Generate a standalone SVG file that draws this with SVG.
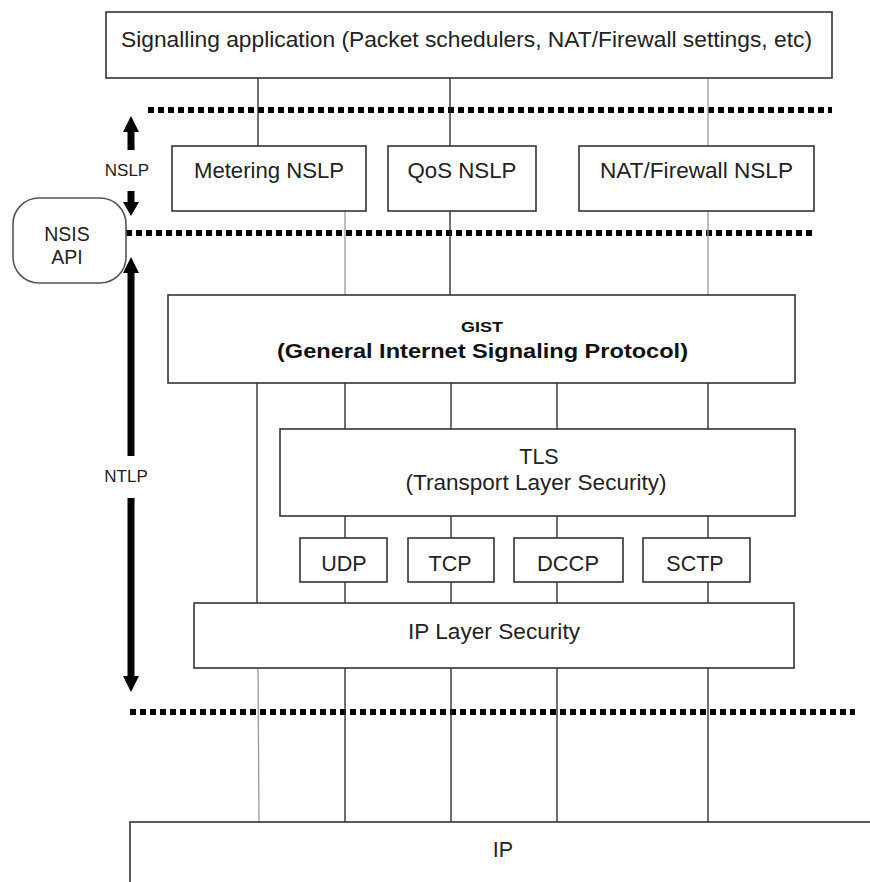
<svg xmlns="http://www.w3.org/2000/svg" width="870" height="882" viewBox="0 0 870 882">
<style>
.box{fill:#fff;stroke:#333;stroke-width:1.6}
.t{font-family:"Liberation Sans",Arial,sans-serif;font-size:21.5px;fill:#222;text-anchor:middle}
.s{font-family:"Liberation Sans",Arial,sans-serif;font-size:17px;fill:#222;text-anchor:middle}
.b{font-family:"Liberation Sans",Arial,sans-serif;font-weight:bold;fill:#111;text-anchor:middle}
.c{stroke:#222;stroke-width:1.3;fill:none}
.g{stroke:#999;stroke-width:1.3;fill:none}
.dot{stroke:#000;stroke-width:6;stroke-dasharray:6 4;fill:none}
.arr{fill:#000}
</style>
<rect width="870" height="882" fill="#fff"/>

<g id="layer-boundaries">
<line class="dot" x1="148" y1="110" x2="832" y2="110"/>
<line class="dot" x1="126" y1="233" x2="814" y2="233"/>
<line class="dot" x1="130" y1="712" x2="855" y2="712"/>
</g>

<g id="connectors">
<line class="c" x1="258" y1="78" x2="258" y2="146"/>
<line class="c" x1="450" y1="78" x2="450" y2="146"/>
<line class="g" x1="708" y1="78" x2="708" y2="146"/>
<line class="g" x1="345" y1="211" x2="345" y2="295"/>
<line class="c" x1="450" y1="211" x2="450" y2="295"/>
<line class="g" x1="708" y1="211" x2="708" y2="295"/>
<line class="c" x1="257" y1="383" x2="257" y2="603"/>
<line class="c" x1="345" y1="383" x2="345" y2="429"/>
<line class="c" x1="451" y1="383" x2="451" y2="429"/>
<line class="c" x1="557" y1="383" x2="557" y2="429"/>
<line class="c" x1="708" y1="383" x2="708" y2="429"/>
<line class="c" x1="345" y1="516" x2="345" y2="538"/>
<line class="c" x1="451" y1="516" x2="451" y2="538"/>
<line class="c" x1="557" y1="516" x2="557" y2="538"/>
<line class="c" x1="708" y1="516" x2="708" y2="538"/>
<line class="c" x1="345" y1="582" x2="345" y2="603"/>
<line class="c" x1="451" y1="582" x2="451" y2="603"/>
<line class="c" x1="557" y1="582" x2="557" y2="603"/>
<line class="c" x1="708" y1="582" x2="708" y2="603"/>
<line class="g" x1="258" y1="668" x2="259" y2="822"/>
<line class="c" x1="345" y1="668" x2="345" y2="822"/>
<line class="c" x1="451" y1="668" x2="451" y2="822"/>
<line class="c" x1="557" y1="668" x2="557" y2="822"/>
<line class="c" x1="708" y1="668" x2="708" y2="822"/>
</g>

<g id="arrows">
<path class="arr" d="M131,116 L139,132 L134.5,132 L134.5,150 L127.5,150 L127.5,132 L123,132 Z"/>
<path class="arr" d="M131,216 L139,202 L134.5,202 L134.5,191 L127.5,191 L127.5,202 L123,202 Z"/>
<path class="arr" d="M131,257 L139,273 L134.5,273 L134.5,456 L127.5,456 L127.5,273 L123,273 Z"/>
<path class="arr" d="M131,692 L139,676 L134.5,676 L134.5,498 L127.5,498 L127.5,676 L123,676 Z"/>
<text class="s" x="127" y="176">NSLP</text>
<text class="s" x="126" y="482">NTLP</text>
</g>

<g id="signalling-application">
<rect class="box" x="106" y="12" width="726" height="66"/>
<text class="t" x="466.5" y="47" textLength="691" lengthAdjust="spacingAndGlyphs">Signalling application (Packet schedulers, NAT/Firewall settings, etc)</text>
</g>

<g id="nsis-api">
<rect x="13" y="198" width="113" height="85" rx="26" ry="26" fill="#fff" stroke="#555" stroke-width="1.6"/>
<text x="67" y="241" class="t" style="font-size:19.5px">NSIS</text>
<text x="67" y="264" class="t" style="font-size:19.5px">API</text>
</g>

<g id="metering-nslp">
<rect class="box" x="172" y="146" width="194" height="65"/>
<text class="t" x="269" y="178" textLength="150" lengthAdjust="spacingAndGlyphs">Metering NSLP</text>
</g>

<g id="qos-nslp">
<rect class="box" x="388" y="146" width="148" height="65"/>
<text class="t" x="462" y="178" textLength="109" lengthAdjust="spacingAndGlyphs">QoS NSLP</text>
</g>

<g id="nat-firewall-nslp">
<rect class="box" x="579" y="146" width="235" height="65"/>
<text class="t" x="696.5" y="178" textLength="193" lengthAdjust="spacingAndGlyphs">NAT/Firewall NSLP</text>
</g>

<g id="gist">
<rect class="box" x="168" y="295" width="627" height="88"/>
<text class="b" x="482" y="332" style="font-size:15px" textLength="42" lengthAdjust="spacingAndGlyphs">GIST</text>
<text class="b" x="482.5" y="358" style="font-size:21px" textLength="411" lengthAdjust="spacingAndGlyphs">(General Internet Signaling Protocol)</text>
</g>

<g id="tls">
<rect class="box" x="280" y="429" width="515" height="87"/>
<text class="t" x="539" y="464">TLS</text>
<text class="t" x="536" y="490" textLength="261" lengthAdjust="spacingAndGlyphs">(Transport Layer Security)</text>
</g>

<g id="udp">
<rect class="box" x="300" y="538" width="87" height="44"/>
<text class="t" x="344" y="571">UDP</text>
</g>

<g id="tcp">
<rect class="box" x="408" y="538" width="86" height="44"/>
<text class="t" x="450" y="571">TCP</text>
</g>

<g id="dccp">
<rect class="box" x="514" y="538" width="109" height="44"/>
<text class="t" x="568" y="571" textLength="62" lengthAdjust="spacingAndGlyphs">DCCP</text>
</g>

<g id="sctp">
<rect class="box" x="643" y="538" width="107" height="44"/>
<text class="t" x="695" y="571">SCTP</text>
</g>

<g id="ip-layer-security">
<rect class="box" x="194" y="603" width="600" height="65"/>
<text class="t" x="494" y="639" textLength="172" lengthAdjust="spacingAndGlyphs">IP Layer Security</text>
</g>

<g id="ip">
<rect class="box" x="130" y="822" width="760" height="80"/>
<text class="t" x="503" y="857">IP</text>
</g>
</svg>
